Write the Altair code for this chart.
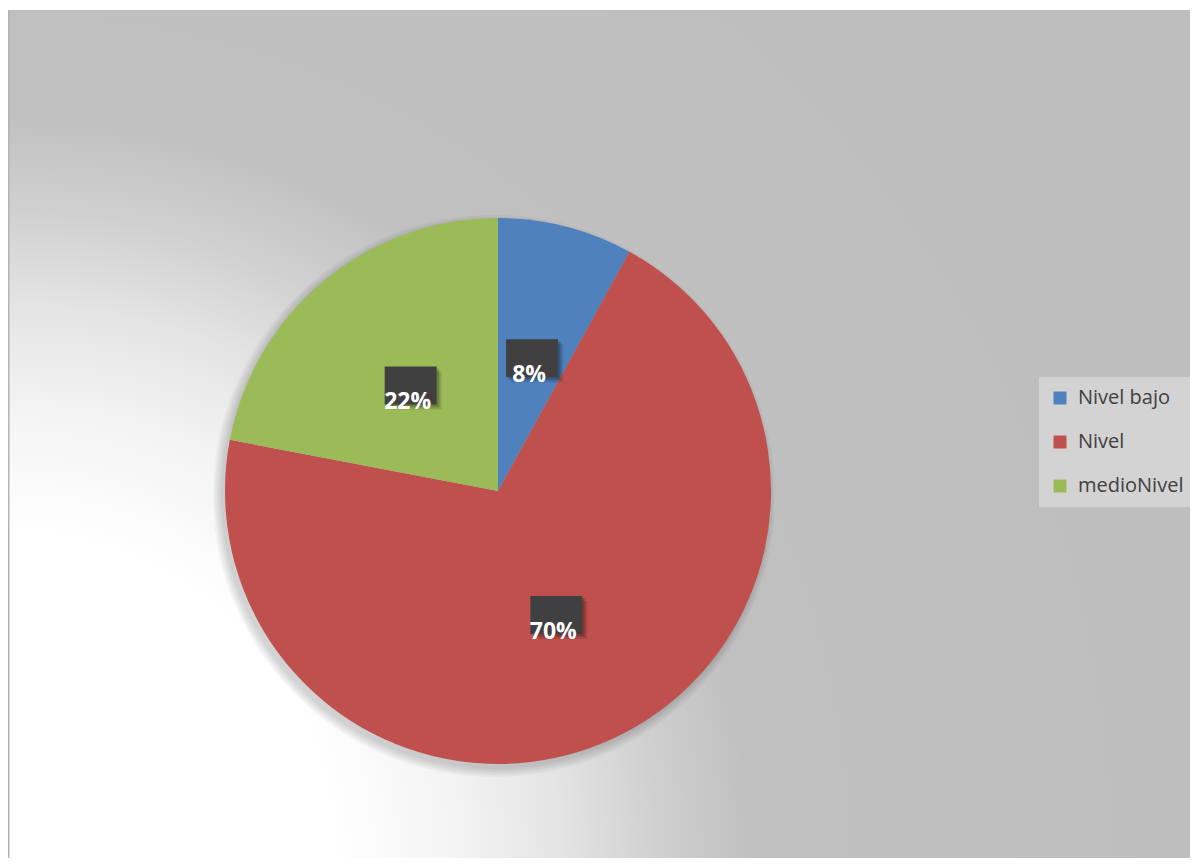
import altair as alt
import pandas as pd

categories = ["Nivel bajo", "Nivel", "medioNivel"]
values = [8, 70, 22]
labels = ["8%", "70%", "22%"]
colors = ["#4F81BD", "#C0504D", "#9BBB59"]

W, H = 1182, 848
CX, CY, R = 490, 481, 273
LR = 137
S = 1200  # square gradient box so the radial gradient stays circular

df = pd.DataFrame({"cat": categories, "value": values, "label": labels, "order": [0, 1, 2]})
bg = pd.DataFrame({"a": [0]})

color_scale = alt.Scale(domain=categories, range=colors)

background = alt.Chart(bg).mark_rect(
    clip=True,
    fill={
        "gradient": "radial",
        "x1": 0, "y1": 1, "r1": 0,
        "x2": 0, "y2": 1, "r2": 1,
        "stops": [
            {"offset": 0, "color": "#FFFFFF"},
            {"offset": 0.27, "color": "#FFFFFF"},
            {"offset": 0.37, "color": "#F4F4F4"},
            {"offset": 0.46, "color": "#E4E4E4"},
            {"offset": 0.54, "color": "#D0D0D0"},
            {"offset": 0.62, "color": "#C0C0C0"},
            {"offset": 1, "color": "#BEBEBE"},
        ],
    }
).encode(x=alt.value(0), x2=alt.value(S), y=alt.value(H - S), y2=alt.value(H))

border = alt.Chart(bg).mark_rule(color="#B4B4B4", strokeWidth=1.5).encode(
    x=alt.value(0.75), y=alt.value(0), y2=alt.value(H)
)

base = alt.Chart(df)

shadows = [
    base.mark_arc(outerRadius=R + k, fill="#000000", opacity=0.035).encode(
        theta=alt.Theta("value:Q", stack=True),
        order=alt.Order("order:Q"),
        x=alt.value(CX - 4),
        y=alt.value(CY + 5),
    )
    for k in range(0, 10, 2)
]

pie = base.mark_arc(outerRadius=R).encode(
    theta=alt.Theta("value:Q", stack=True),
    order=alt.Order("order:Q"),
    color=alt.Color(
        "cat:N",
        scale=color_scale,
        sort=categories,
        legend=alt.Legend(
            title=None,
            orient="none",
            legendX=1031,
            legendY=367,
            fillColor="#D3D3D3",
            padding=11,
            symbolType="square",
            symbolSize=169,
            symbolStrokeWidth=0,
            labelFontSize=20,
            labelFont="Open Sans",
            labelColor="#404040",
            rowPadding=24,
            labelOffset=8,
        ),
    ),
    x=alt.value(CX),
    y=alt.value(CY),
)

lab = base.transform_window(
    cum="sum(value)", sort=[alt.SortField("order")]
).transform_joinaggregate(total="sum(value)").transform_calculate(
    mid="(datum.cum - datum.value / 2) / datum.total * 2 * PI",
).transform_calculate(
    bx=f"{CX} + {LR} * sin(datum.mid)",
    by=f"{CY} - {LR} * cos(datum.mid)",
).transform_calculate(
    bx1="datum.bx - 26", bx2="datum.bx + 26",
    by1="datum.by - 19", by2="datum.by + 19",
    tx="datum.bx - 3", ty="datum.by + 17",
)

box_shadows = [
    lab.mark_rect(fill="#000000", opacity=0.12).transform_calculate(
        sx1=f"datum.bx1 + {d}", sx2=f"datum.bx2 + {d}",
        sy1=f"datum.by1 + {d}", sy2=f"datum.by2 + {d}",
    ).encode(
        x=alt.X("sx1:Q", scale=None), x2="sx2:Q",
        y=alt.Y("sy1:Q", scale=None), y2="sy2:Q",
    )
    for d in (2, 3, 5)
]
boxes = lab.mark_rect(fill="#404040").encode(
    x=alt.X("bx1:Q", scale=None), x2="bx2:Q",
    y=alt.Y("by1:Q", scale=None), y2="by2:Q",
)
texts = lab.mark_text(
    font="Open Sans", fontSize=23, fontWeight="bold", color="#FFFFFF",
    align="center", baseline="middle",
).encode(
    x=alt.X("tx:Q", scale=None), y=alt.Y("ty:Q", scale=None), text="label:N"
)

chart = alt.layer(
    background, border, *shadows, pie, *box_shadows, boxes, texts
).properties(
    width=W, height=H,
    padding={"left": 0, "top": 2, "right": 0, "bottom": 0},
    autosize=alt.AutoSizeParams(type="none"),
).configure_view(stroke=None)

chart.save("out.html", embed_options={"renderer": "svg", "actions": False})
